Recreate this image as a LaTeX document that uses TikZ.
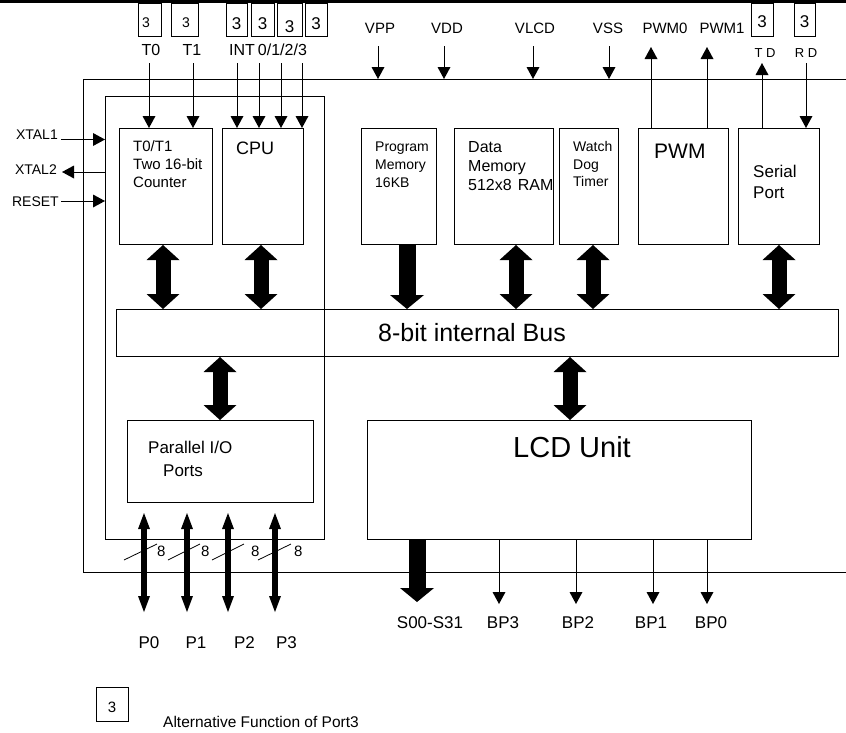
\documentclass[tikz,border=0pt]{standalone}
\usepackage{fontspec}
\setmainfont{Liberation Sans}
\usetikzlibrary{arrows.meta}
\newcommand\lbl[6][base west]{\node[anchor=#1,inner sep=0pt,font=\fontsize{#5}{#5}\selectfont] (#2) at (#3,#4) {#6};}
\newcommand\blk[5]{\node[box,minimum width=#4pt,minimum height=#5pt] (#1) at (#2,#3) {};}
\begin{document}
\begin{tikzpicture}[x=1pt,y=-1pt,
  box/.style={draw,line width=1pt,anchor=north west,inner sep=0pt},
  arr/.style={line width=1pt,-{Triangle[width=13pt,length=12pt,line width=0pt]}},
  bigdbl/.style={line width=15pt,{Triangle[width=33pt,length=15pt,line width=0pt]}-{Triangle[width=33pt,length=15pt,line width=0pt]}},
  bigone/.style={line width=17pt,-{Triangle[width=34pt,length=14pt,line width=0pt]}},
  portdbl/.style={line width=5.5pt,{Triangle[width=12pt,length=16pt,line width=0pt]}-{Triangle[width=12pt,length=16pt,line width=0pt]}},
  slash/.style={line width=0.8pt}]
\useasboundingbox (0,0) rectangle (846,732);
% top rule
\draw[line width=2.2pt] (0,1.5) -- (846,1.5);
% main boxes
\blk{chip}{83}{79}{770}{493}
\blk{inner}{105}{96}{219}{443}
\blk{t01}{119}{128}{93}{116}
\blk{cpu}{222}{128}{81}{116}
\blk{pmem}{361}{128}{75}{116}
\blk{dmem}{454}{128}{99}{116}
\blk{wdt}{559}{128}{59}{116}
\blk{pwm}{638}{128}{90}{116}
\blk{ser}{738}{128}{81}{116}
\blk{bus}{116}{309}{722}{47}
\blk{pio}{127}{420}{186}{82}
\blk{lcd}{367}{420}{384}{119}
% port-3 marker boxes
\blk{s1}{138}{3}{23}{33}
\blk{s2}{171}{3}{27}{33}
\blk{s3}{226}{3}{21}{33}
\blk{s4}{251}{3}{23}{33}
\blk{s5}{277}{3}{25}{33}
\blk{s6}{305}{3}{22}{33}
\blk{s7}{751}{3}{22}{33}
\blk{s8}{794}{3}{21}{33}
\blk{sleg}{96}{687}{32}{34}
\lbl[base]{s1t}{146}{27}{14}{3}
\lbl[base]{s2t}{186}{27}{14}{3}
\lbl[base]{s3t}{236.5}{29}{17}{3}
\lbl[base]{s4t}{262.5}{29}{17}{3}
\lbl[base]{s5t}{289.5}{32}{17}{3}
\lbl[base]{s6t}{316}{29}{17}{3}
\lbl[base]{s7t}{762}{27}{17}{3}
\lbl[base]{s8t}{804.5}{27}{17}{3}
\lbl[base]{slegt}{112}{712}{15}{3}
% top labels
\lbl[base]{lT0}{151}{55}{16}{T0}
\lbl[base]{lT1}{192}{55}{16}{T1}
\lbl{lINT}{229}{55}{16}{INT\hspace{3pt}0/1/2/3}
\lbl[base]{lVPP}{380}{33}{15}{VPP}
\lbl[base]{lVDD}{447}{33}{15}{VDD}
\lbl[base]{lVLCD}{535}{33}{15}{VLCD}
\lbl[base]{lVSS}{608}{33}{15}{VSS}
\lbl[base]{lPWM0}{665}{33}{15}{PWM0}
\lbl[base]{lPWM1}{722}{33}{15}{PWM1}
\lbl[base]{lTD}{765}{57}{13}{T D}
\lbl[base]{lRD}{806}{57}{13}{R D}
% left labels
\lbl[base east]{lX1}{58}{139}{14}{XTAL1}
\lbl[base east]{lX2}{57}{174}{14}{XTAL2}
\lbl[base east]{lRS}{59}{206}{14}{RESET}
% block texts
\lbl{t01a}{133}{151}{15}{T0/T1}
\lbl{t01b}{133}{169}{15}{Two 16-bit}
\lbl{t01c}{133}{187}{15}{Counter}
\lbl{cpua}{236}{154}{18}{CPU}
\lbl{pma}{375}{151}{14}{Program}
\lbl{pmb}{375}{169}{14}{Memory}
\lbl{pmc}{375}{187}{14}{16KB}
\lbl{dma}{468}{152}{16}{Data}
\lbl{dmb}{468}{171}{16}{Memory}
\lbl{dmc}{468}{190}{16}{512x8\hspace{6pt}RAM}
\lbl{wda}{573}{151}{14}{Watch}
\lbl{wdb}{573}{169}{14}{Dog}
\lbl{wdc}{573}{186}{14}{Timer}
\lbl{pwma}{654}{158}{21}{PWM}
\lbl{sera}{753}{177}{17}{Serial}
\lbl{serb}{753}{198}{17}{Port}
\lbl{busa}{378}{341}{25}{8-bit internal Bus}
\lbl{lcda}{513}{457}{29}{LCD Unit}
\lbl{pioa}{148}{453}{17}{Parallel I/O}
\lbl{piob}{163}{476}{17}{Ports}
% bottom labels
\lbl[base]{lP0}{149}{648}{17}{P0}
\lbl[base]{lP1}{196}{648}{17}{P1}
\lbl[base]{lP2}{244.5}{648}{17}{P2}
\lbl[base]{lP3}{286.5}{648}{17}{P3}
\lbl{l8a}{157}{556}{15}{8}
\lbl{l8b}{201}{556}{15}{8}
\lbl{l8c}{251}{556}{15}{8}
\lbl{l8d}{294}{556}{15}{8}
\lbl[base]{lS}{430}{628}{17}{S00-S31}
\lbl[base]{lBP3}{503}{628}{17}{BP3}
\lbl[base]{lBP2}{578}{628}{17}{BP2}
\lbl[base]{lBP1}{651}{628}{17}{BP1}
\lbl[base]{lBP0}{711}{628}{17}{BP0}
\lbl{legt}{163}{727}{15.5}{Alternative Function of Port3}
% top arrows
\coordinate (aT0) at (149,63);
\coordinate (aT1) at (193,63);
\coordinate (aI0) at (237,63);
\coordinate (aI1) at (259,63);
\coordinate (aI2) at (281,63);
\coordinate (aI3) at (302,63);
\draw[arr] (aT0) -- (aT0 |- t01.north);
\draw[arr] (aT1) -- (aT1 |- t01.north);
\draw[arr] (aI0) -- (aI0 |- cpu.north);
\draw[arr] (aI1) -- (aI1 |- cpu.north);
\draw[arr] (aI2) -- (aI2 |- cpu.north);
\draw[arr] (aI3) -- (aI3 |- cpu.north);
\coordinate (aVPP) at (378,46);
\coordinate (aVDD) at (444,46);
\coordinate (aVLCD) at (533,46);
\coordinate (aVSS) at (609,46);
\draw[arr] (aVPP) -- (aVPP |- chip.north);
\draw[arr] (aVDD) -- (aVDD |- chip.north);
\draw[arr] (aVLCD) -- (aVLCD |- chip.north);
\draw[arr] (aVSS) -- (aVSS |- chip.north);
\coordinate (aPW0) at (651,47);
\coordinate (aPW1) at (707,47);
\draw[arr] (aPW0 |- pwm.north) -- (aPW0);
\draw[arr] (aPW1 |- pwm.north) -- (aPW1);
\coordinate (aTD) at (762,63);
\coordinate (aRD) at (806,63);
\draw[arr] (aTD |- ser.north) -- (aTD);
\draw[arr] (aRD) -- (aRD |- ser.north);
% left arrows
\coordinate (aX1) at (61,139.5);
\coordinate (aX2) at (62,172);
\coordinate (aRS) at (61,201);
\draw[arr] (aX1) -- (aX1 -| inner.west);
\draw[arr] (aX2 -| inner.west) -- (aX2);
\draw[arr] (aRS) -- (aRS -| inner.west);
% bus connections
\coordinate (bT) at (163,0);
\coordinate (bC) at (261,0);
\coordinate (bPM) at (407,0);
\coordinate (bDM) at (516,0);
\coordinate (bWD) at (593,0);
\coordinate (bSP) at (779,0);
\coordinate (bPI) at (220,0);
\coordinate (bLC) at (570,0);
\draw[bigdbl] (bT |- t01.south) -- (bT |- bus.north);
\draw[bigdbl] (bC |- cpu.south) -- (bC |- bus.north);
\draw[bigone] (bPM |- pmem.south) -- (bPM |- bus.north);
\draw[bigdbl] (bDM |- dmem.south) -- (bDM |- bus.north);
\draw[bigdbl] (bWD |- wdt.south) -- (bWD |- bus.north);
\draw[bigdbl] (bSP |- ser.south) -- (bSP |- bus.north);
\draw[bigdbl] (bPI |- bus.south) -- (bPI |- pio.north);
\draw[bigdbl] (bLC |- bus.south) -- (bLC |- lcd.north);
% ports
\coordinate (p0) at (144,612);
\coordinate (p1) at (187,612);
\coordinate (p2) at (228,612);
\coordinate (p3) at (275,612);
\draw[portdbl,shorten <=10pt] (p0 |- pio.south) -- (p0);
\draw[portdbl,shorten <=10pt] (p1 |- pio.south) -- (p1);
\draw[portdbl,shorten <=10pt] (p2 |- pio.south) -- (p2);
\draw[portdbl,shorten <=10pt] (p3 |- pio.south) -- (p3);
\draw[slash] (124,560) -- (157,544);
\draw[slash] (168,560) -- (200,544);
\draw[slash] (212,560) -- (244,544);
\draw[slash] (258,560) -- (291,544);
% LCD outputs
\coordinate (oS) at (417,602);
\coordinate (o3) at (499,604);
\coordinate (o2) at (576,604);
\coordinate (o1) at (653,604);
\coordinate (o0) at (707,604);
\draw[bigone] (oS |- lcd.south) -- (oS);
\draw[arr] (o3 |- lcd.south) -- (o3);
\draw[arr] (o2 |- lcd.south) -- (o2);
\draw[arr] (o1 |- lcd.south) -- (o1);
\draw[arr] (o0 |- lcd.south) -- (o0);
\end{tikzpicture}
\end{document}
